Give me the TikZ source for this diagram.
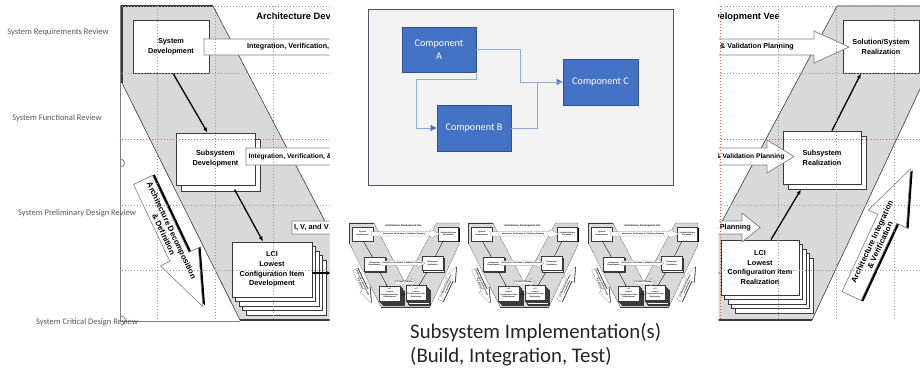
\documentclass[tikz,border=0pt]{standalone}
\usepackage{fontspec}
\setmainfont{Liberation Sans}
\newfontfamily\calfont{Carlito}
\usetikzlibrary{arrows.meta,calc,shadows}

\definecolor{bandgray}{HTML}{D9D9D9}
\definecolor{edgegray}{HTML}{3A3A3A}
\definecolor{gridgray}{HTML}{9A9A9A}
\definecolor{gridred}{HTML}{E2674A}
\definecolor{labelgray}{HTML}{595959}
\definecolor{panelfill}{HTML}{F2F2F2}
\definecolor{paneledge}{HTML}{4A5568}
\definecolor{compblue}{HTML}{4472C4}
\definecolor{compedge}{HTML}{2F528F}
\definecolor{linkblue}{HTML}{8FAADC}
\definecolor{captiongray}{HTML}{262626}

\tikzset{
  gridline/.style={gridgray, line width=0.7pt, dash pattern=on 0.8pt off 2.2pt},
  redline/.style={gridred, line width=0.7pt, dash pattern=on 0.8pt off 2.2pt},
  review/.style={font=\calfont\fontsize{8.5}{10}\selectfont, text=labelgray, inner sep=0pt},
  comp/.style={fill=compblue, draw=compedge, line width=0.9pt, text=white,
    font=\calfont\fontsize{10.2}{12.5}\selectfont, align=center, inner sep=0pt,
    minimum width=74pt, minimum height=45pt},
  link/.style={linkblue, line width=0.9pt},
  linktip/.style={-{Triangle[length=6pt, width=6pt, color=compblue]}},
  caption/.style={anchor=west, font=\calfont\fontsize{20.8}{24}\selectfont, text=captiongray, inner sep=0pt},
  % hollow block arrow along the local x axis; #1 = side offset of its black shadow
  pics/hollowarrow/.style={code={
    \fill[black] (0,{-10.5+#1}) -- (85,{-10.5+#1}) -- (85,{-21+#1}) -- (140,{#1})
      -- (85,{21+#1}) -- (85,{10.5+#1}) -- (0,{10.5+#1}) -- cycle;
    \draw[fill=white, draw=gray, vthin] (0,-10.5) -- (85,-10.5) -- (85,-21) -- (140,0)
      -- (85,21) -- (85,10.5) -- (0,10.5) -- cycle;
  }},
  % the architecture development vee; #1 = line width factor
  pics/vee/.style={code={
    \tikzset{
      vthin/.style={line width=0.6pt*#1},
      vbox/.style={draw=edgegray, fill=white, line width=0.8pt*#1, inner sep=0pt, align=center,
        font=\bfseries\fontsize{7.3}{9.8}\selectfont},
      vshadow/.style={general shadow={fill=black, shadow xshift=1.4pt, shadow yshift=-1.4pt}},
      vflow/.style={line width=1.3pt*#1, -{Latex[length=5pt, width=4pt, scale=#1]}},
      plan/.style={fill=white, draw=gray, line width=0.7pt*#1},
      plantext/.style={inner sep=0pt, font=\bfseries\fontsize{7.2}{8}\selectfont},
      arrowtext/.style={inner sep=0pt, align=center, font=\bfseries\fontsize{7.9}{8.8}\selectfont},
    }
    % grey band of the vee
    \path[fill=bandgray, draw=edgegray, vthin] (122,6) -- (213,6) -- (329,229) -- (448,6)
      -- (532,6) -- (532,87) -- (423,320) -- (240,320) -- (122,83) -- cycle;
    \draw[edgegray, line width=1.4pt*#1] (122,83) -- (122,6) -- (213,6);
    \draw[edgegray, line width=1.4pt*#1] (240,320) -- (423,320);
    % decomposition and integration arrows
    \begin{scope}[shift={(143,180)}, rotate=-64.7]
      \pic[transform shape] {hollowarrow=-2.5};
      \node[arrowtext, transform shape] (-dec) at (58,0) {Architecture Decomposition\\\& Definition};
    \end{scope}
    \begin{scope}[shift={(462.5,296)}, rotate=65.1]
      \pic[transform shape] {hollowarrow=2.5};
      \node[arrowtext, transform shape] (-int) at (58,0) {Architecture Integration\\\& Verification};
    \end{scope}
    % development side
    \node[vbox, vshadow, minimum width=76pt, minimum height=53pt] (-sd) at (171,46.5) {System\\Development};
    \draw[vbox] (181,139) rectangle (260,191);
    \node[vbox, minimum width=79pt, minimum height=52pt] (-ssd) at (215.5,159) {Subsystem\\Development};
    \foreach \k in {4,3,2,1}
      \draw[vbox] ({232+3.5*\k},{242+4.5*\k}) rectangle ({312+3.5*\k},{297+4.5*\k});
    \node[vbox, minimum width=80pt, minimum height=55pt] (-lcid) at (272,269.5)
      {LCI\\Lowest\\Configuration Item\\Development};
    % realization side
    \node[vbox, vshadow, minimum width=76pt, minimum height=53pt] (-sr) at (492,46.5) {Solution/System\\Realization};
    \draw[vbox] (399,136) rectangle (477,189);
    \node[vbox, minimum width=78pt, minimum height=53pt] (-ssr) at (433,157.5) {Subsystem\\Realization};
    \foreach \k in {4,3,2,1}
      \draw[vbox] ({332+3.5*\k},{240+4.5*\k}) rectangle ({410+3.5*\k},{295+4.5*\k});
    \node[vbox, minimum width=78pt, minimum height=55pt] (-lcir) at (371,267.5)
      {LCI\\Lowest\\Configuration Item\\Realization};
    % planning arrows
    \draw[plan] (204,39) -- (425,39) -- (425,31) -- (460,47) -- (425,63) -- (425,55) -- (204,55) -- cycle;
    \node[plantext] (-ivv1) at (326,47) {Integration, Verification, \& Validation Planning};
    \draw[plan] (246,148) -- (378,148) -- (378,140) -- (405,156.5) -- (378,173) -- (378,165) -- (246,165) -- cycle;
    \node[plantext, font=\bfseries\fontsize{6.7}{8}\selectfont] (-ivv2) at (322,156.5)
      {Integration, Verification, \& Validation Planning};
    \draw[plan] (292,221) -- (353,221) -- (353,213) -- (371,227.5) -- (353,242) -- (353,234) -- (292,234) -- cycle;
    \node[plantext, font=\bfseries\fontsize{7.4}{8}\selectfont] (-ivv3) at (328,227.5) {I, V, and V Planning};
    % flow between levels
    \draw[vflow] ($(-sd.south)+(2,0)$) -- ($(-ssd.north)+(-8,0)$);
    \draw[vflow] ($(-ssd.south)+(19,4)$) -- ($(-lcid.north)+(-9,0)$);
    \draw[vflow] ($(-lcid.east)+(0,3.5)$) -- ($(-lcir.west)+(0,5.5)$);
    \draw[vflow] ($(-lcir.north)+(11,0)$) -- ($(-ssr.south)+(-21,5)$);
    \draw[vflow] ($(-ssr.north)+(10,0)$) -- ($(-sr.south)+(-20,0)$);
    \node[inner sep=0pt, font=\bfseries\fontsize{9.3}{10}\selectfont] (-title) at (323.5,17)
      {Architecture Development Vee};
  }}
}

% dotted review grid over the vee
\newcommand\veegrid{%
  \foreach \gx in {157,215,273,389,447,505} \draw[gridline] (\gx,6) -- (\gx,320);
  \draw[redline] (331,6) -- (331,320);
  \foreach \gy in {6,73,205,270} \draw[gridline] (122,\gy) -- (545,\gy);
  \draw[redline] (122,139) -- (545,139);
}

\begin{document}
\begin{tikzpicture}[x=1pt, y=-1pt]
  \useasboundingbox (0,0) rectangle (920,371);
  \fill[white] (0,0) rectangle (920,371);

  % left half of the vee
  \begin{scope}
    \clip (118,0) rectangle (329.5,330);
    \pic (L) at (0,0) {vee=1};
    \veegrid
  \end{scope}
  \draw[gray, line width=0.6pt] (120,5) -- (120,322);
  \draw[gray, line width=0.6pt] (120,321) -- (240,321);
  \draw[gray, line width=0.8pt] (120,159) .. controls (126,159) and (126,167) .. (120,167);
  \draw[gray, line width=0.8pt] (121,316) .. controls (127,316) and (127,325) .. (121,325);

  % review milestones
  \node[review] (srr) at (58,32) {System Requirements Review};
  \node[review] (sfr) at (57,118) {System Functional Review};
  \node[review] (spdr) at (77,213) {System Preliminary Design Review};
  \node[review] (scdr) at (87,322) {System Critical Design Review};

  % right half of the vee
  \begin{scope}[xshift=389pt]
    \clip (329.5,0) rectangle (532,330);
    \pic (R) at (0,0) {vee=1};
    \veegrid
  \end{scope}

  % component view
  \node[draw=paneledge, fill=panelfill, line width=0.9pt, minimum width=305pt,
    minimum height=176pt, inner sep=0pt] (panel) at (520.5,97) {};
  \node[comp] (A) at (439,49.5) {Component\\A};
  \node[comp, minimum height=46pt] (B) at (474,128) {Component B};
  \node[comp, minimum width=75pt, minimum height=46pt] (C) at (600.5,82) {Component C};
  \draw[link, linktip] (A.east) -- ++(44,0) |- (C.west);
  \draw[link, linktip] (A.south east) -- ++(0,7) -- ++(-60,0) |- (B.west);
  \draw[link] (B.east) -- ++(26,0) |- (C.west);

  % subsystem vees
  \pic[scale=0.267, transform shape] (T1) at (317,221.4) {vee=0.267};
  \pic[scale=0.267, transform shape] (T2) at (436,221.4) {vee=0.267};
  \pic[scale=0.267, transform shape] (T3) at (556,221.4) {vee=0.267};

  \node[caption] (cap1) at (410,333) {Subsystem Implementation(s)};
  \node[caption] (cap2) at (410,357) {(Build, Integration, Test)};
\end{tikzpicture}
\end{document}
